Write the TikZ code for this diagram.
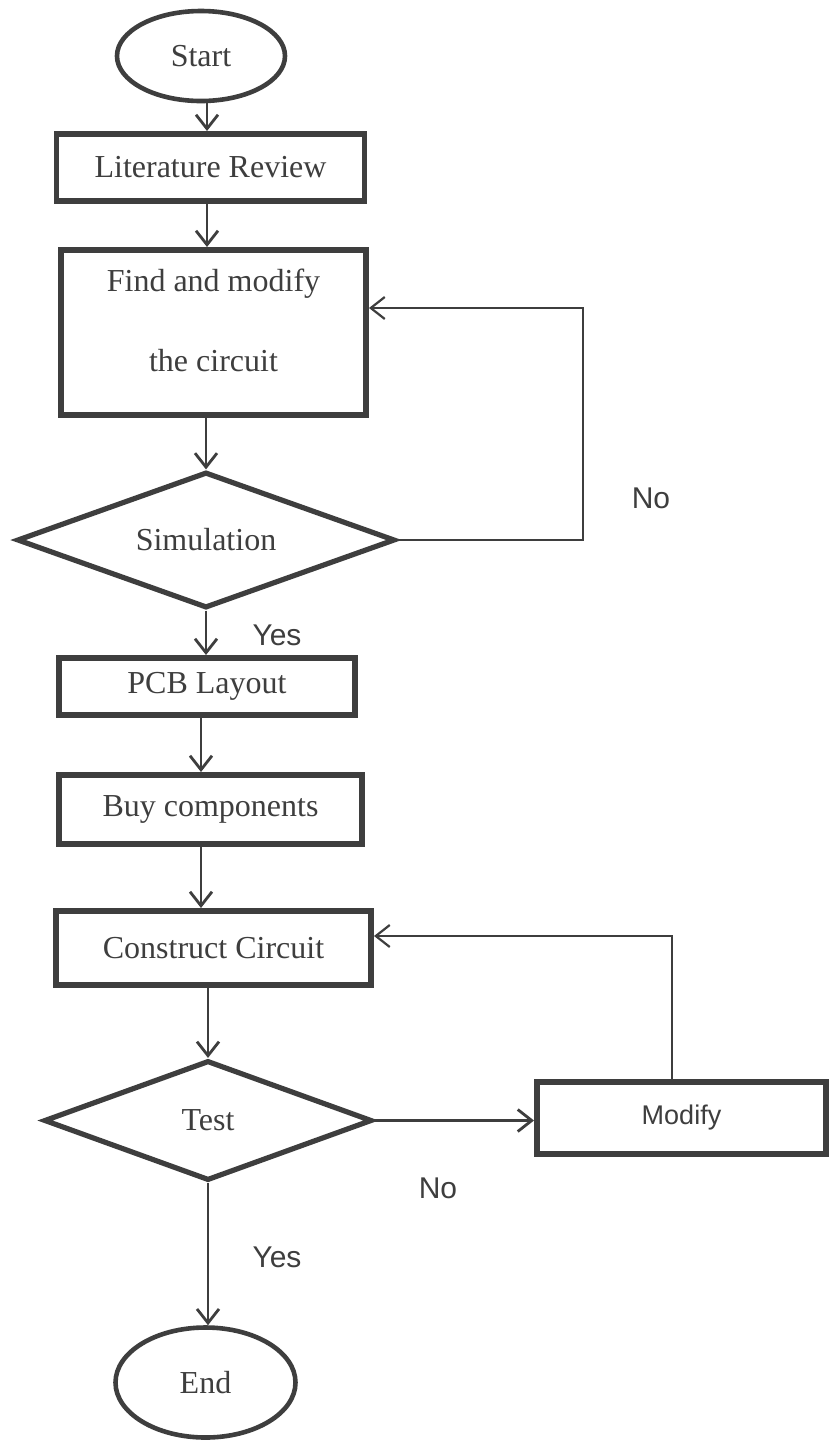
\documentclass[tikz,border=0pt]{standalone}
\usepackage{fontspec}
\setmainfont{Liberation Serif}
\setsansfont{Liberation Sans}
\usetikzlibrary{shapes.geometric,arrows.meta}
\definecolor{ink}{HTML}{3E3E3E}
\begin{document}
\begin{tikzpicture}[x=0.5pt,y=-0.5pt,
  box/.style={draw=ink, line width=2.8pt, rectangle, inner sep=0pt, text=ink, font=\fontsize{16}{19}\selectfont},
  oval/.style={draw=ink, line width=2.3pt, ellipse, inner sep=0pt, text=ink, font=\fontsize{16}{19}\selectfont},
  dec/.style={draw=ink, line width=2.6pt, diamond, inner sep=0pt, text=ink, font=\fontsize{16}{19}\selectfont},
  lbl/.style={text=ink, inner sep=0pt, font=\fontsize{16}{19}\selectfont},
  conn/.style={draw=ink, line width=1.4pt, -{Straight Barb[length=7pt,width=11pt]}},
  back/.style={conn, line width=1.1pt},
  yn/.style={text=ink, inner sep=0pt, font=\sffamily\fontsize{15}{18}\selectfont}
]
\useasboundingbox (0,0) rectangle (831,1442);
\fill[white] (0,0) rectangle (831,1442);

\node[oval, minimum width=84pt, minimum height=45pt] (start) at (201,56) {Start};
\node[box, minimum width=154pt, minimum height=33.7pt] (lit) at (210.5,167.5) {Literature Review};
\node[box, minimum width=152.7pt, minimum height=82.7pt] (find) at (213.5,332.5) {};
\node[lbl, align=center] (findtxt) at (213.5,320) {Find and modify\\[21pt]the circuit};
\node[dec, minimum width=189pt, minimum height=68pt, aspect=2.78] (sim) at (206,540) {Simulation};
\node[box, minimum width=148.2pt, minimum height=28.7pt] (pcb) at (207,686.5) {PCB Layout};
\node[box, minimum width=151.7pt, minimum height=34.7pt] (buy) at (210.5,809.5) {Buy components};
\node[box, minimum width=157.7pt, minimum height=37.2pt] (cons) at (213.5,948) {Construct Circuit};
\node[dec, minimum width=164pt, minimum height=60pt, aspect=2.73] (test) at (208,1120.5) {Test};
\node[box, minimum width=144.7pt, minimum height=36.2pt, font=\sffamily\fontsize{13.5}{16}\selectfont] (modify) at (681.5,1118) {Modify};
\node[oval, minimum width=90pt, minimum height=55pt] (end) at (205.5,1382.5) {End};

\node[yn] (no1) at (651,498) {No};
\node[yn] (yes1) at (277,635) {Yes};
\node[yn] (no2) at (438,1188) {No};
\node[yn] (yes2) at (277,1257) {Yes};

\coordinate (a1) at (207,0);
\coordinate (a2) at (201,0);
\coordinate (r1) at (583,308);
\coordinate (r2) at (672,936);

\draw[conn] (start.south -| a1) -- (lit.north -| a1);
\draw[conn] (lit.south -| a1) -- (find.north -| a1);
\draw[conn] (find.south -| sim.north) -- (sim.north);
\draw[conn] (sim.south) -- (pcb.north -| sim.south);
\draw[conn] (pcb.south -| a2) -- (buy.north -| a2);
\draw[conn] (buy.south -| a2) -- (cons.north -| a2);
\draw[conn] (cons.south -| test.north) -- (test.north);
\draw[conn] (test.south) -- (end.north -| test.south);
\draw[conn] (test.east) -- (modify.west |- test.east);
\draw[back] (sim.east) -| (r1) -- (find.east |- r1);
\draw[back] (modify.north -| r2) -- (r2) -- (cons.east |- r2);
\end{tikzpicture}
\end{document}
